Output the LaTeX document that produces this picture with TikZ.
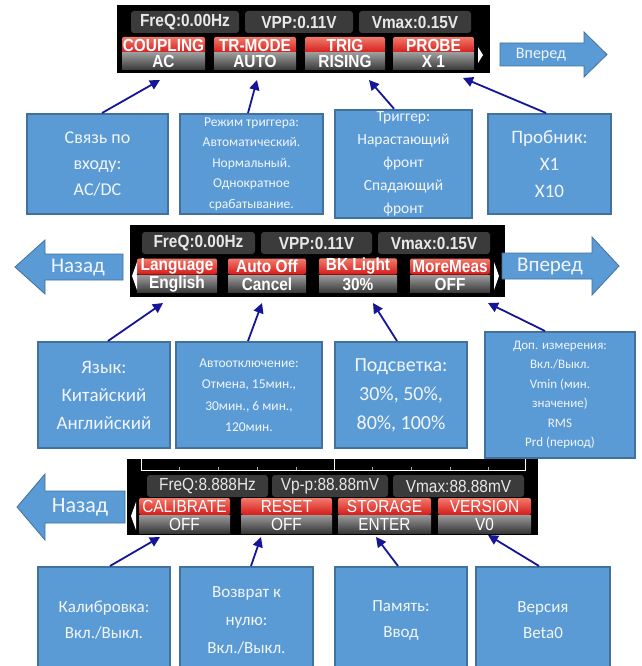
\documentclass[tikz,border=0pt]{standalone}
\usepackage{fontspec}
\setmainfont{Carlito}
\newfontfamily\scrfont[FakeStretch=0.88]{Liberation Sans}
\usetikzlibrary{arrows.meta}
\definecolor{boxblue}{HTML}{5B9BD5}
\definecolor{boxedge}{HTML}{41719C}
\definecolor{navy}{HTML}{15159A}
\definecolor{boxtext}{HTML}{F2F6FC}
\definecolor{infobg}{HTML}{3B3B3B}
\definecolor{infotext}{HTML}{E8E8E8}
\definecolor{tabtop}{HTML}{F27A6A}
\definecolor{tabbot}{HTML}{D41A1A}
\definecolor{valtop}{HTML}{9A9A9A}
\definecolor{valbot}{HTML}{383838}
\tikzset{
  infocell/.style={fill=infobg, rounded corners=3pt, text=infotext, inner sep=0pt, minimum height=22pt, font=\scrfont\bfseries\fontsize{17.5}{17.5}\selectfont},
  infocellr/.style={infocell, font=\scrfont\fontsize{17.5}{17.5}\selectfont},
  tabcell/.style={top color=tabtop, bottom color=tabbot, rounded corners=2pt, text=white, inner sep=0pt, minimum height=16pt, font=\scrfont\bfseries\fontsize{17.5}{17.5}\selectfont},
  tabcellr/.style={tabcell, minimum height=17pt, font=\scrfont\fontsize{17.5}{17.5}\selectfont},
  valcell/.style={top color=valtop, bottom color=valbot, text=white, inner sep=0pt, minimum height=17pt, font=\scrfont\bfseries\fontsize{17.5}{17.5}\selectfont},
  valcellr/.style={valcell, minimum height=18pt, font=\scrfont\fontsize{17.5}{17.5}\selectfont},
  infobox/.style={fill=boxblue, draw=boxedge, line width=2pt, text=boxtext, align=center, inner sep=2pt},
  conn/.style={draw=navy, line width=1.8pt, -{Triangle[length=10pt,width=10pt]}},
  navarrow/.style={fill=boxblue, draw=boxedge, line width=0.8pt},
  navtext/.style={text=boxtext, inner sep=0pt},
}
\begin{document}
\begin{tikzpicture}[x=1pt,y=-1pt]
\useasboundingbox (0,0) rectangle (641,666);
\fill[white] (0,0) rectangle (641,666);

% ================= ROW 1 =================
\fill[black] (117,5) rectangle (490,73);
\node[infocell, minimum width=108pt] (i11) at (185,22) {FreQ:0.00Hz};
\node[infocell, minimum width=108pt] (i12) at (299,22) {VPP:0.11V};
\node[infocell, minimum width=112pt] (i13) at (415,22) {Vmax:0.15V};
\node[tabcell, minimum width=83pt] (t11) at (163.5,45) {COUPLING};
\node[tabcell, minimum width=82pt] (t12) at (255,45) {TR-MODE};
\node[tabcell, minimum width=80pt] (t13) at (345,45) {TRIG};
\node[tabcell, minimum width=81pt] (t14) at (433.5,45) {PROBE};
\node[valcell, minimum width=83pt] (v11) at (163.5,61.5) {AC};
\node[valcell, minimum width=82pt] (v12) at (255,61.5) {AUTO};
\node[valcell, minimum width=80pt] (v13) at (345,61.5) {RISING};
\node[valcell, minimum width=81pt] (v14) at (433.5,61.5) {X 1};
\fill[white] (478,47) -- (483,55) -- (478,63) -- cycle;

\draw[navarrow] (500,43) -- (584,43) -- (584,32) -- (607,54.5) -- (584,77) -- (584,66) -- (500,66) -- cycle;
\node[navtext, font=\fontsize{16}{16}\selectfont] (fwd1) at (541,54.5) {Вперед};

\node[infobox, minimum width=141pt, minimum height=100pt, font=\fontsize{18}{26}\selectfont] (b11) at (97.5,164) {Связь по\\входу:\\AC/DC};
\node[infobox, minimum width=143pt, minimum height=100pt, font=\fontsize{13.5}{20.5}\selectfont] (b12) at (251.5,164) {Режим триггера:\\Автоматический.\\Нормальный.\\Однократное\\срабатывание.};
\node[infobox, minimum width=137pt, minimum height=108pt, font=\fontsize{15.5}{23}\selectfont] (b13) at (403.5,164) {Триггер:\\Нарастающий\\фронт\\Спадающий\\фронт};
\node[infobox, minimum width=123pt, minimum height=100pt, font=\fontsize{19}{27}\selectfont] (b14) at (549.5,164) {Пробник:\\X1\\X10};

\coordinate (h11) at (160,80);
\coordinate (h12) at (257,80);
\coordinate (h13) at (369,80);
\coordinate (h14) at (463,78);
\draw[conn] ([xshift=4.5pt]b11.north) -- (h11);
\draw[conn] ([xshift=-3.5pt]b12.north) -- (h12);
\draw[conn] ([xshift=-9.5pt]b13.north) -- (h13);
\draw[conn] ([xshift=-3.5pt]b14.north) -- (h14);

% ================= ROW 2 =================
\fill[black] (130,225) rectangle (505,297);
\node[infocell, minimum width=113pt] (i21) at (198.5,243) {FreQ:0.00Hz};
\node[infocell, minimum width=111pt] (i22) at (316.5,243) {VPP:0.11V};
\node[infocell, minimum width=112pt] (i23) at (434,243) {Vmax:0.15V};
\node[tabcell, minimum width=80pt] (t21) at (177,266.5) {Language};
\node[tabcell, minimum width=78pt] (t22) at (267,266.5) {Auto Off};
\node[tabcell, minimum width=78pt] (t23) at (358,266.5) {BK Light};
\node[tabcell, minimum width=80pt] (t24) at (450,266.5) {MoreMeas};
\node[valcell, minimum width=80pt] (v21) at (177,284) {English};
\node[valcell, minimum width=78pt] (v22) at (267,284) {Cancel};
\node[valcell, minimum width=78pt] (v23) at (358,284) {30\%};
\node[valcell, minimum width=80pt] (v24) at (450,284) {OFF};
\fill[white] (137,262) -- (132,276) -- (137,290) -- cycle;
\fill[white] (494,262) -- (499,276) -- (494,290) -- cycle;

\draw[navarrow] (123,254) -- (45,254) -- (45,240) -- (15,267) -- (45,294) -- (45,280) -- (123,280) -- cycle;
\node[navtext, font=\fontsize{21}{21}\selectfont] (back2) at (78,267) {Назад};
\draw[navarrow] (502,253) -- (592,253) -- (592,237) -- (619,266) -- (592,295) -- (592,279) -- (502,279) -- cycle;
\node[navtext, font=\fontsize{21}{21}\selectfont] (fwd2) at (550,266) {Вперед};

\node[infobox, minimum width=132pt, minimum height=106pt, font=\fontsize{19}{28}\selectfont] (b21) at (104,395) {Язык:\\Китайский\\Английский};
\node[infobox, minimum width=146pt, minimum height=106pt, font=\fontsize{13.5}{21.5}\selectfont] (b22) at (249,395) {Автоотключение:\\Отмена, 15мин.,\\30мин., 6 мин.,\\120мин.};
\node[infobox, minimum width=132pt, minimum height=106pt, font=\fontsize{20}{29}\selectfont] (b23) at (401,395) {Подсветка:\\30\%, 50\%,\\80\%, 100\%};
\node[infobox, minimum width=150pt, minimum height=126pt, font=\fontsize{13}{19.5}\selectfont] (b24) at (560,395) {Доп. измерения:\\Вкл./Выкл.\\Vmin (мин.\\значение)\\RMS\\Prd (период)};

\coordinate (h21) at (163,303);
\coordinate (h22) at (262,303);
\coordinate (h23) at (373,303);
\coordinate (h24) at (488,303);
\draw[conn] ([xshift=4pt]b21.north) -- (h21);
\draw[conn] ([xshift=-1pt]b22.north) -- (h22);
\draw[conn] ([xshift=-4pt]b23.north) -- (h23);
\draw[conn] ([xshift=-15pt]b24.north) -- (h24);

% ================= ROW 3 =================
\fill[black] (127,459) rectangle (538,535);
\draw[white, line width=0.9pt] (141,459) -- (141,470) -- (525,470) -- (525,459);
\draw[white, line width=0.9pt] (334,459) -- (334,470);
\foreach \xx in {179,218,257,296,372,411,450,488}
  \draw[gray!70, line width=0.6pt] (\xx,470) -- (\xx,467);
\node[infocellr, minimum width=121pt] (i31) at (207.5,486) {FreQ:8.888Hz};
\node[infocellr, minimum width=116pt] (i32) at (330,486) {Vp-p:88.88mV};
\node[infocellr, minimum width=131pt] (i33) at (458.5,486) {Vmax:88.88mV};
\node[tabcellr, minimum width=91pt] (t31) at (184.5,506.5) {CALIBRATE};
\node[tabcellr, minimum width=91pt] (t32) at (286.5,506.5) {RESET};
\node[tabcellr, minimum width=93pt] (t33) at (384.5,506.5) {STORAGE};
\node[tabcellr, minimum width=93pt] (t34) at (484.5,506.5) {VERSION};
\node[valcellr, minimum width=91pt] (v31) at (184.5,524) {OFF};
\node[valcellr, minimum width=91pt] (v32) at (286.5,524) {OFF};
\node[valcellr, minimum width=93pt] (v33) at (384.5,524) {ENTER};
\node[valcellr, minimum width=93pt] (v34) at (484.5,524) {V0};
\fill[white] (136,502) -- (131,516) -- (136,530) -- cycle;

\draw[navarrow] (125,491) -- (45,491) -- (45,474) -- (17,507) -- (45,540) -- (45,523) -- (125,523) -- cycle;
\node[navtext, font=\fontsize{22}{22}\selectfont] (back3) at (80,507) {Назад};

\node[infobox, minimum width=132pt, minimum height=106pt, font=\fontsize{17}{26}\selectfont] (b31) at (104,620) {Калибровка:\\Вкл./Выкл.};
\node[infobox, minimum width=133pt, minimum height=106pt, font=\fontsize{17}{28}\selectfont] (b32) at (246.5,620) {Возврат к\\нулю:\\Вкл./Выкл.};
\node[infobox, minimum width=132pt, minimum height=106pt, font=\fontsize{17}{26}\selectfont] (b33) at (401,620) {Память:\\Ввод};
\node[infobox, minimum width=134pt, minimum height=106pt, font=\fontsize{17}{26}\selectfont] (b34) at (543,620) {Версия\\Beta0};

\coordinate (h31) at (160,537);
\coordinate (h32) at (261,537);
\coordinate (h33) at (376,537);
\coordinate (h34) at (488,535);
\draw[conn] ([xshift=6pt]b31.north) -- (h31);
\draw[conn] ([xshift=4.5pt]b32.north) -- (h32);
\draw[conn] ([xshift=-3pt]b33.north) -- (h33);
\draw[conn] ([xshift=-4pt]b34.north) -- (h34);
\end{tikzpicture}
\end{document}
